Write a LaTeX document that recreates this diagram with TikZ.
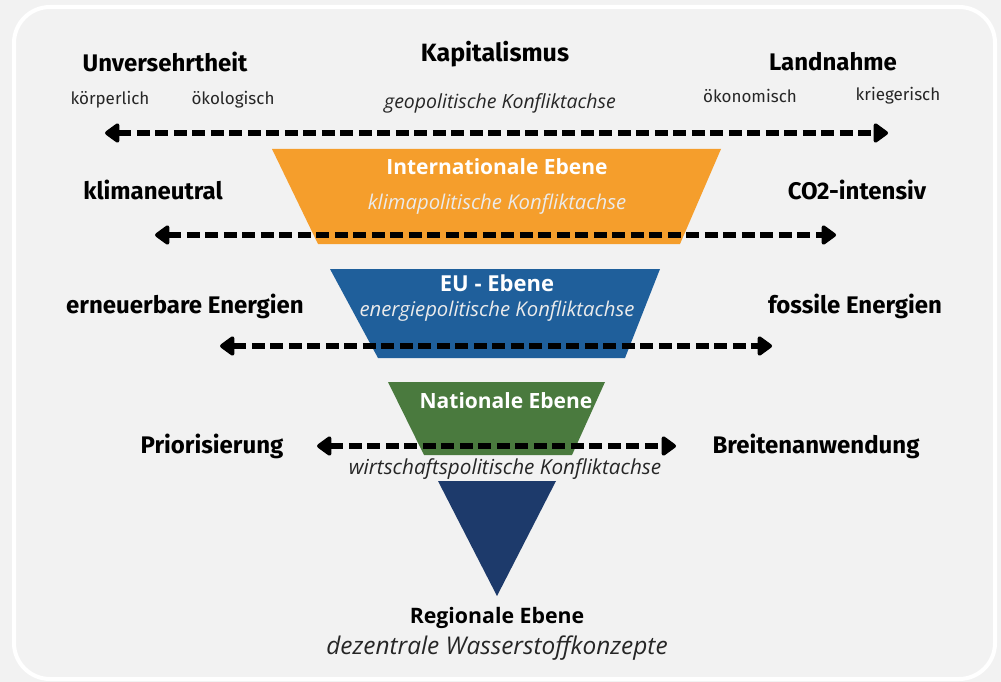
\documentclass[tikz,border=0pt]{standalone}
\usepackage{fontspec}
\setmainfont{Fira Sans}
\newfontfamily\osans{Open Sans}
\usetikzlibrary{arrows.meta}
\definecolor{bg}{HTML}{F2F2F2}
\definecolor{orangeL}{HTML}{F59E2C}
\definecolor{blueL}{HTML}{1F5F9B}
\definecolor{greenL}{HTML}{4A7A3E}
\definecolor{navyL}{HTML}{1D3A6B}
\begin{document}
\begin{tikzpicture}[x=1pt,y=-1pt,
  head/.style={font=\fontsize{24}{26}\selectfont\bfseries, text=black, inner sep=0pt},
  small/.style={font=\fontsize{17}{19}\selectfont, text=black!85, inner sep=0pt},
  axis/.style={font=\osans\fontsize{19.5}{22}\selectfont\itshape, text=black!85, inner sep=0pt},
  intitle/.style={font=\osans\fontsize{21}{24}\selectfont\bfseries, text=white, inner sep=0pt},
  inaxis/.style={font=\osans\fontsize{20.3}{23}\selectfont\itshape, text=white!92!black, inner sep=0pt},
  conflict/.style={line width=6pt, dash pattern=on 13pt off 5.5pt,
    {Triangle[length=16pt,width=22pt,round]}-{Triangle[length=16pt,width=22pt,round]}, black}
]
\useasboundingbox (0,0) rectangle (1001,682);
\fill[bg] (0,0) rectangle (1001,682);
\draw[white, line width=4pt, rounded corners=36pt] (14,7) rectangle (995,679);

% levels
\fill[orangeL] (272,149) -- (721,149) -- (680,244) -- (318,244) -- cycle;
\fill[blueL] (330,269) -- (660,269) -- (625,358) -- (378,358) -- cycle;
\fill[greenL] (388,382) -- (605,382) -- (572,455) -- (424,455) -- cycle;
\fill[navyL] (438,481) -- (556,481) -- (497,596) -- cycle;

% headings
\node[head] (unv) at (165,62) {Unversehrtheit};
\node[head, font=\fontsize{25}{27}\selectfont\bfseries] (kap) at (495,54) {Kapitalismus};
\node[head] (land) at (833,62) {Landnahme};
\node[small] (koerp) at (110,100) {körperlich};
\node[small] (oeko) at (233,100) {ökologisch};
\node[axis] (geo) at (500,103) {geopolitische Konfliktachse};
\node[small] (oekon) at (750,96) {ökonomisch};
\node[small] (krieg) at (898,96) {kriegerisch};

\node[intitle] (intl) at (497,167) {Internationale Ebene};
\node[inaxis] (klima) at (497,204) {klimapolitische Konfliktachse};
\node[head] (klneu) at (153,190) {klimaneutral};
\node[head] (co2) at (857,190) {CO2-intensiv};

\node[intitle, font=\osans\fontsize{22}{24}\selectfont\bfseries] (eu) at (497,283) {EU - Ebene};
\node[inaxis] (energ) at (497,311) {energiepolitische Konfliktachse};
\node[head] (ern) at (185,306) {erneuerbare Energien};
\node[head] (fos) at (855,306) {fossile Energien};

\node[intitle] (nat) at (506,401) {Nationale Ebene};
\node[head] (prio) at (212,446) {Priorisierung};
\node[head] (breit) at (816,446) {Breitenanwendung};
\node[axis, font=\osans\fontsize{20.7}{23}\selectfont\itshape] (wirt) at (505,469) {wirtschaftspolitische Konfliktachse};

\node[head, font=\osans\fontsize{21.3}{24}\selectfont\bfseries] (reg) at (497,618) {Regionale Ebene};
\node[axis, font=\osans\fontsize{24.4}{27}\selectfont\itshape] (dez) at (497,648) {dezentrale Wasserstoffkonzepte};

% axes
\coordinate (a1l) at (105,133); \coordinate (a1r) at (888,133);
\coordinate (a2l) at (155,235); \coordinate (a2r) at (836,235);
\coordinate (a3l) at (220,346); \coordinate (a3r) at (772,346);
\coordinate (a4l) at (317,446); \coordinate (a4r) at (676,446);
\draw[conflict] (a1l) -- (a1r);
\draw[conflict] (a2l) -- (a2r);
\draw[conflict] (a3l) -- (a3r);
\draw[conflict] (a4l) -- (a4r);
\end{tikzpicture}
\end{document}
